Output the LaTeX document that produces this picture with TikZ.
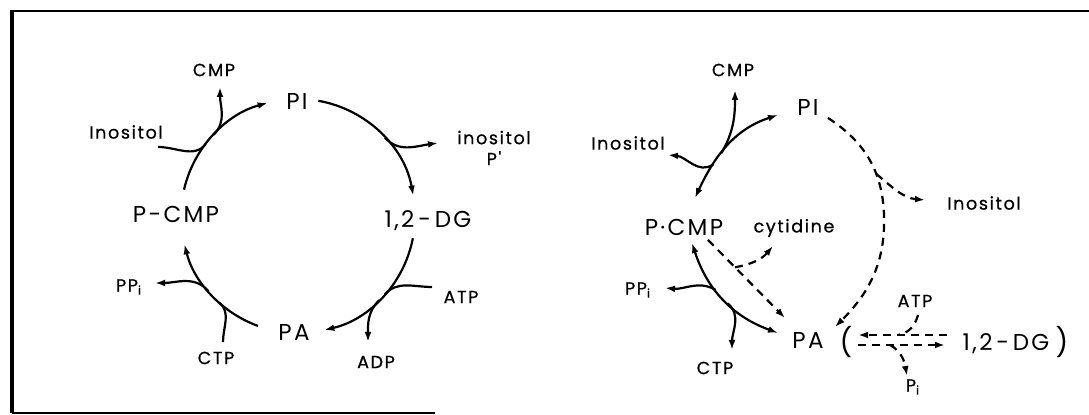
\documentclass[tikz,border=0pt]{standalone}
\usepackage{fontspec}
\setmainfont{Poppins}[LetterSpace=4]
\newfontfamily\smallfont{Poppins}[LetterSpace=9, FakeBold=0.6]
\newfontfamily\bigfont{Poppins}[LetterSpace=10]
\usetikzlibrary{arrows.meta,calc}

\begin{document}
\begin{tikzpicture}[x=0.5pt, y=0.5pt,
    lbl/.style={font=\smallfont\fontsize{8.8}{10.5}\selectfont, inner sep=1pt},
    big/.style={font=\bigfont\fontsize{11.5}{13}\selectfont, inner sep=1pt},
    ln/.style={line width=1.1pt},
    dsh/.style={line width=1.1pt, dash pattern=on 4pt off 3pt},
    arr/.style={-{Latex[length=5pt,width=3.4pt]}},
    arrs/.style={{Latex[length=5pt,width=3.4pt]}-{Latex[length=5pt,width=3.4pt]}}]
  \useasboundingbox (0,0) rectangle (1089,415);
  \def\r{117}
  \def\rr{58.5pt}
  \draw[line width=1.6pt] (12,2) -- (12,405);
  \draw[line width=0.9pt] (12,404) -- (1089,404);
  \draw[line width=0.9pt] (12,2) -- (435,2);

  \coordinate (c1) at (298,199);
  \foreach \n/\a in {l1s/80, l1e/10, l1j/42, l2s/-11, l2e/-77, l2a/-42, l2d/-46,
      l3s/-110, l3e/-166, l3c/-132, l3p/-140, l4s/167, l4e/105, l4i/142, l4c/136}
    \coordinate (\n) at ($(c1)+(\a:\r)$);
  \coordinate (ipe) at (438,272);
  \coordinate (atps1) at (432,128);
  \coordinate (adpe) at (368,73);
  \coordinate (ctps1) at (223,73);
  \coordinate (ppe1) at (155,132);
  \coordinate (inos1) at (158,268);
  \coordinate (cmpe1) at (220,328);

  \node[big] (pi1) at (297,314) {PI};
  \node[big] (dg1) at (428,194) {1,2\,-\,DG};
  \node[big] (pcmp1) at (176,201) {P-CMP};
  \node[big] (pa1) at (294,83) {PA};
  \node[lbl] (cmp1) at (214,345) {CMP};
  \node[lbl] (ino1) at (126,283) {Inositol};
  \node[lbl, align=center] (inop1) at (494,267) {inositol\\P'};
  \node[lbl] (pp1) at (129,128) {PP\textsubscript{i}};
  \node[lbl] (atp1) at (461,118) {ATP};
  \node[lbl] (ctp1) at (216,57) {CTP};
  \node[lbl] (adp1) at (376,53) {ADP};

  \draw[ln, arr] (l1s) arc[start angle=80, end angle=10, radius=\rr];
  \draw[ln, arr] (l2s) arc[start angle=-11, end angle=-77, radius=\rr];
  \draw[ln, arr] (l3s) arc[start angle=-110, end angle=-166, radius=\rr];
  \draw[ln, arr] (l4s) arc[start angle=167, end angle=105, radius=\rr];
  \draw[ln, arr] (l1j) to[out=-48, in=188] (ipe);
  \draw[ln] (atps1) to[out=180, in=48] (l2a);
  \draw[ln, arr] (l2d) to[out=-136, in=90] (adpe);
  \draw[ln] (ctps1) to[out=90, in=-42] (l3c);
  \draw[ln, arr] (l3p) to[out=130, in=0] (ppe1);
  \draw[ln] (inos1) to[out=0, in=-128] (l4i);
  \draw[ln, arr] (l4c) to[out=46, in=-90] (cmpe1);

  \coordinate (r1) at (695,217);
  \coordinate (r2) at (778,300);
  \coordinate (ie2) at (668,260);
  \coordinate (ce2) at (735,325);
  \coordinate (ra) at (828,297);
  \coordinate (rm) at (884,200);
  \coordinate (rb) at (835,88);
  \coordinate (ie3) at (925,215);
  \coordinate (rc) at (708,175);
  \coordinate (rd) at (785,97);
  \coordinate (cye) at (773,169);
  \coordinate (re) at (692,172);
  \coordinate (rf) at (778,82);
  \coordinate (ppe2) at (665,127);
  \coordinate (cte2) at (732,65);
  \coordinate (u1) at (947,80);
  \coordinate (u2) at (858,80);
  \coordinate (atps2) at (918,100);
  \coordinate (w1) at (858,70);
  \coordinate (w2) at (945,70);
  \coordinate (pie) at (907,39);

  \node[lbl] (cmp2) at (733,345) {CMP};
  \node[big] (pi2) at (808,308) {PI};
  \node[lbl] (ino2) at (628,272) {Inositol};
  \node[lbl] (ino3) at (984,212) {Inositol};
  \node[big] (pcmp2) at (684,188) {P·CMP};
  \node[lbl] (cyt) at (794,187) {cytidine};
  \node[lbl] (pp2) at (638,125) {PP\textsubscript{i}};
  \node[lbl] (ctp2) at (715,47) {CTP};
  \node[big] (pa2) at (808,75) {PA};
  \node[big, font=\fontsize{14}{16}\selectfont] (lp) at (846,73) {(};
  \node[big] (dg2) at (1006,71) {1,2\,-\,DG};
  \node[big, font=\fontsize{14}{16}\selectfont] (rp) at (1062,73) {)};
  \node[lbl] (atp2) at (915,114) {ATP};
  \node[lbl] (pi3) at (913,28) {P\textsubscript{i}};

  \draw[ln, arrs] (r1) to[out=65, in=198]
    coordinate[pos=0.3] (rj1) coordinate[pos=0.42] (rj2) (r2);
  \draw[ln, arr] (rj1) to[out=215, in=-5] (ie2);
  \draw[ln, arr] (rj2) to[out=60, in=-90] (ce2);
  \draw[dsh, arr] (ra) to[out=-33, in=92] coordinate[pos=0.65] (rj6) (rm)
    to[out=-88, in=45] (rb);
  \draw[dsh, arr] (rj6) to[out=-40, in=175] (ie3);
  \draw[dsh, arr] (rc) -- coordinate[pos=0.35] (rj5) (rd);
  \draw[dsh, arr] (rj5) to[out=10, in=230] (cye);
  \draw[ln, arrs] (re) to[out=-72, in=160]
    coordinate[pos=0.4] (rj3) coordinate[pos=0.55] (rj4) (rf);
  \draw[ln, arr] (rj3) to[out=150, in=-5] (ppe2);
  \draw[ln, arr] (rj4) to[out=-40, in=90] (cte2);
  \draw[dsh, arr] (u1) -- coordinate[pos=0.55] (uj) (u2);
  \draw[dsh] (atps2) to[out=-105, in=10] (uj);
  \draw[dsh, arr] (w1) -- coordinate[pos=0.37] (wj) (w2);
  \draw[dsh, arr] (wj) to[out=-30, in=100] (pie);
\end{tikzpicture}
\end{document}
